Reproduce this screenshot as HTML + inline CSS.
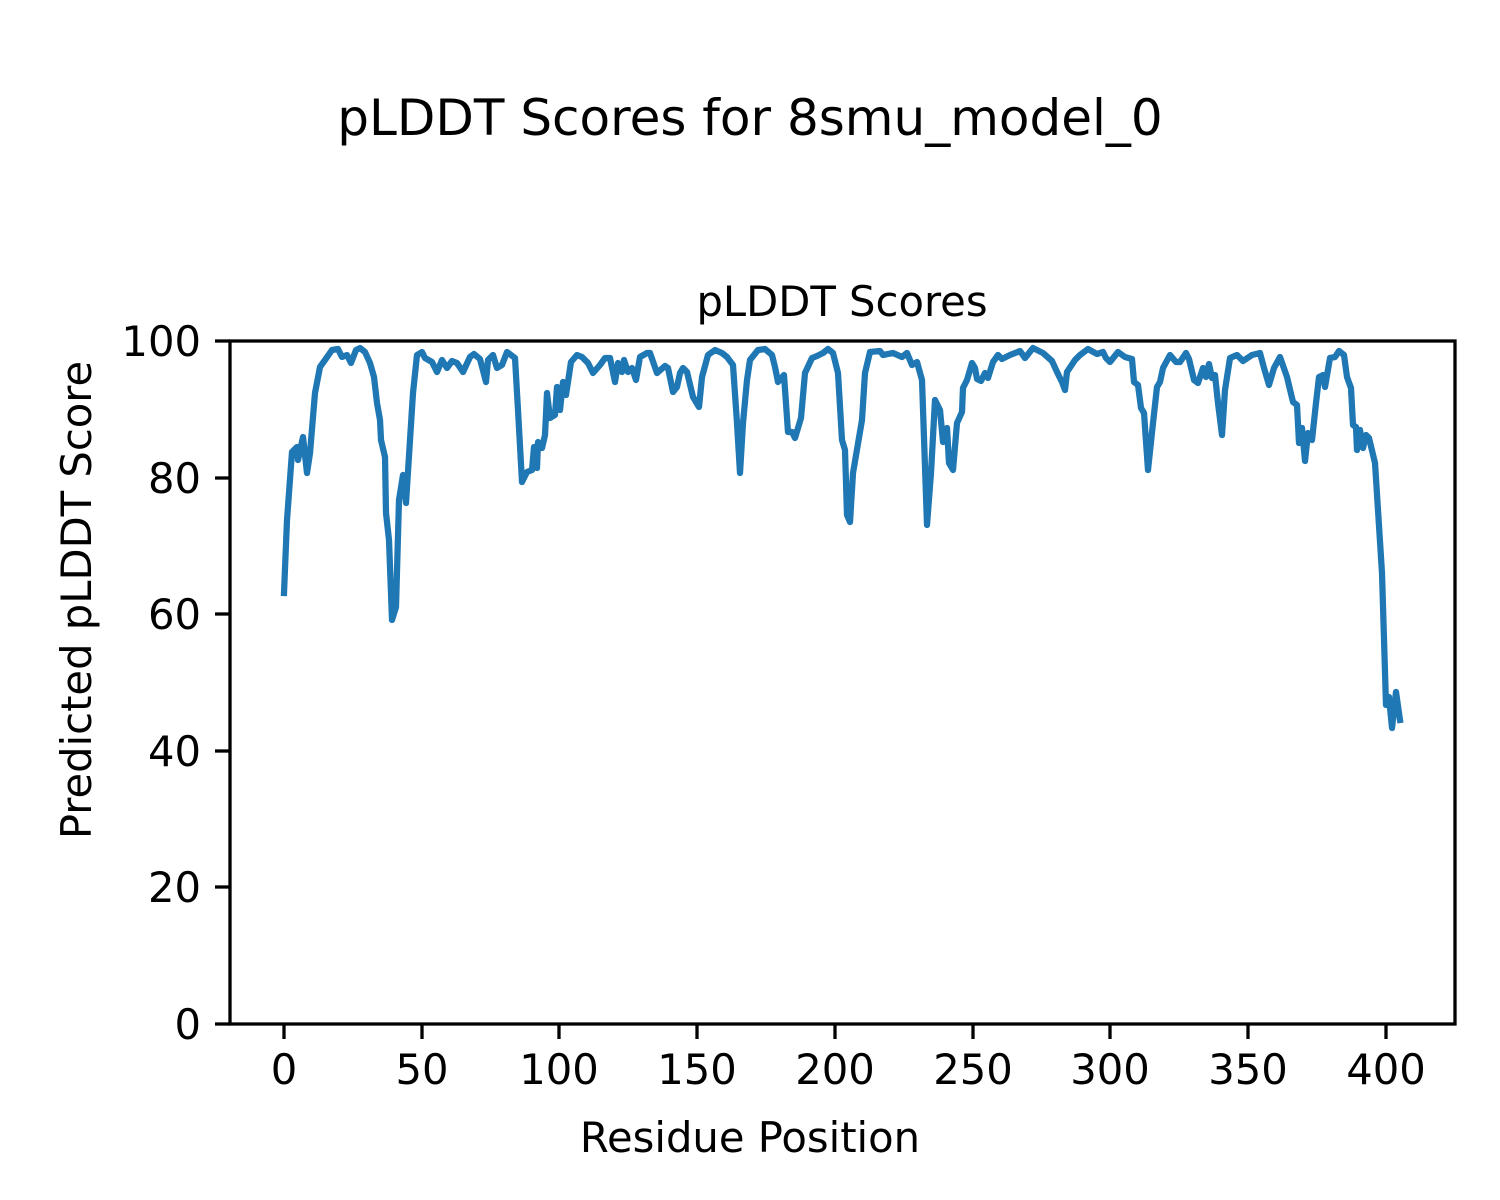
<!DOCTYPE html>
<html><head><meta charset="utf-8"><style>html,body{margin:0;padding:0;background:#fff}svg{display:block}text{font-family:"DejaVu Sans","Liberation Sans",sans-serif;fill:#000}</style></head><body>
<svg width="1500" height="1200" viewBox="0 0 1500 1200" xmlns="http://www.w3.org/2000/svg">
<rect width="1500" height="1200" fill="#fff"/>
<text x="750" y="135" font-size="50" text-anchor="middle">pLDDT Scores for 8smu_model_0</text>
<text x="842" y="316" font-size="41.7" text-anchor="middle">pLDDT Scores</text>
<polyline fill="none" stroke="#1f77b4" stroke-width="6.25" stroke-linejoin="round" stroke-linecap="square" points="284,593 287,520 292,452 297,447 298,460 303,437 307,473 310,453 315,393 320,367 325,360 332,350 338,349 342,357 347,355 351,363 356,350 360,348 365,352 370,363 374,377 377,403 380,420 381,440 385,457 386,513 389,540 392,620 396,607 399,500 403,475 406,503 410,440 413,393 417,355 422,352 425,358 432,362 437,372 442,360 447,368 452,361 457,363 463,372 470,357 474,354 480,359 486,382 488,360 493,355 497,368 502,365 507,352 515,358 518,410 522,482 527,472 532,470 534,447 537,468 538,442 542,448 545,435 547,393 550,418 555,415 557,387 560,410 563,382 566,395 571,362 577,355 582,357 588,363 593,373 600,365 605,358 610,358 615,382 618,363 622,372 624,360 628,372 632,368 636,380 640,357 647,353 650,353 657,373 665,366 668,368 673,392 677,387 680,373 683,368 687,372 693,397 699,407 702,377 708,355 715,350 722,353 727,357 733,365 737,423 740,473 743,423 747,380 750,360 758,350 765,349 772,355 775,367 778,382 784,375 788,432 792,432 795,438 801,418 805,373 812,358 817,356 823,353 828,349 833,353 838,373 842,440 845,450 847,515 850,522 853,473 862,420 865,373 870,352 880,351 883,355 893,353 902,357 907,353 912,365 917,362 922,380 927,525 931,473 935,400 940,410 943,442 947,428 949,463 953,470 957,423 962,412 963,388 967,380 972,363 975,368 977,379 981,381 985,373 988,378 993,362 998,355 1002,359 1010,355 1020,351 1025,358 1033,348 1043,353 1052,361 1057,372 1062,382 1065,390 1067,372 1075,360 1080,355 1088,349 1097,354 1103,352 1106,358 1110,362 1118,352 1125,357 1132,359 1134,382 1138,385 1141,408 1144,413 1148,470 1153,423 1157,387 1160,382 1163,368 1170,355 1176,362 1180,362 1186,353 1189,359 1194,380 1198,383 1203,368 1206,377 1209,364 1212,378 1215,375 1218,403 1222,435 1225,390 1230,358 1237,355 1243,361 1252,355 1260,353 1264,368 1269,385 1274,368 1280,357 1287,377 1293,402 1297,405 1299,443 1302,428 1305,461 1308,433 1312,440 1316,403 1319,377 1323,375 1325,387 1330,358 1335,357 1339,351 1344,355 1347,377 1351,388 1353,425 1356,427 1357,450 1360,430 1363,448 1366,435 1369,438 1375,463 1382,573 1386,705 1389,697 1392,728 1396,692 1400,720"/>
<rect x="230" y="341" width="1225" height="683" fill="none" stroke="#000" stroke-width="3.3"/>
<g stroke="#000" stroke-width="3.3">
<line x1="284" y1="1024" x2="284" y2="1039"/><line x1="422" y1="1024" x2="422" y2="1039"/><line x1="559" y1="1024" x2="559" y2="1039"/><line x1="697" y1="1024" x2="697" y2="1039"/><line x1="835" y1="1024" x2="835" y2="1039"/><line x1="973" y1="1024" x2="973" y2="1039"/><line x1="1110" y1="1024" x2="1110" y2="1039"/><line x1="1248" y1="1024" x2="1248" y2="1039"/><line x1="1386" y1="1024" x2="1386" y2="1039"/>
<line x1="215" y1="1024" x2="230" y2="1024"/><line x1="215" y1="887" x2="230" y2="887"/><line x1="215" y1="751" x2="230" y2="751"/><line x1="215" y1="614" x2="230" y2="614"/><line x1="215" y1="478" x2="230" y2="478"/><line x1="215" y1="341" x2="230" y2="341"/>
</g>
<g font-size="41.7" text-anchor="middle">
<text x="284" y="1084">0</text><text x="422" y="1084">50</text><text x="559" y="1084">100</text><text x="697" y="1084">150</text><text x="835" y="1084">200</text><text x="973" y="1084">250</text><text x="1110" y="1084">300</text><text x="1248" y="1084">350</text><text x="1386" y="1084">400</text>
</g>
<g font-size="41.7" text-anchor="end">
<text x="201" y="1039">0</text><text x="201" y="902">20</text><text x="201" y="766">40</text><text x="201" y="629">60</text><text x="201" y="493">80</text><text x="201" y="356">100</text>
</g>
<text x="750" y="1152" font-size="41.7" text-anchor="middle">Residue Position</text>
<text transform="translate(91,600) rotate(-90)" font-size="41.7" text-anchor="middle">Predicted pLDDT Score</text>
</svg>
</body></html>
